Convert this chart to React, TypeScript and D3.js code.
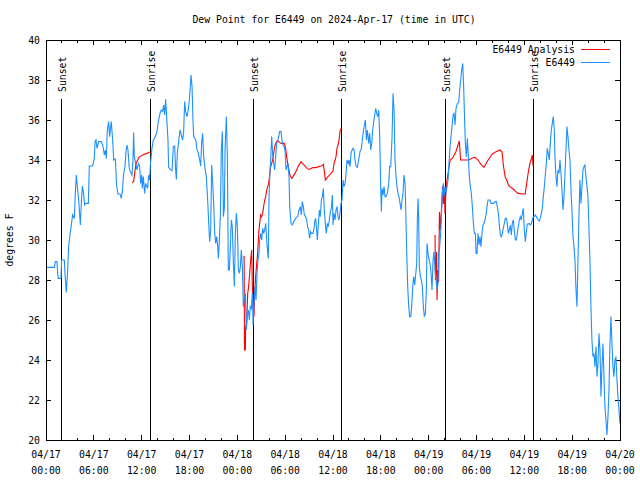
import React from "react";
import * as d3 from "d3";

const title = "Dew Point for E6449 on 2024-Apr-17 (time in UTC)";
const yLabel = "degrees F";
const seriesNames = ["E6449 Analysis", "E6449"];
const seriesColors = ["#ff0000", "#1e90ff"];

// x in hours since 2024-04-17 00:00 UTC
const xTickLabels = [
  ["04/17", "00:00"], ["04/17", "06:00"], ["04/17", "12:00"], ["04/17", "18:00"],
  ["04/18", "00:00"], ["04/18", "06:00"], ["04/18", "12:00"], ["04/18", "18:00"],
  ["04/19", "00:00"], ["04/19", "06:00"], ["04/19", "12:00"], ["04/19", "18:00"],
  ["04/20", "00:00"],
];
const yTicks = [20, 22, 24, 26, 28, 30, 32, 34, 36, 38, 40];

const sunEvents: [number, string][] = [
  [1.92, "Sunset"], [13.09, "Sunrise"], [26.01, "Sunset"],
  [37.05, "Sunrise"], [50.09, "Sunset"], [61.13, "Sunrise"],
];

const analysisSeg1: [number, number][] = [
  [10.79, 32.87], [10.99, 32.92], [11.12, 33.33], [11.29, 33.83], [11.5, 34.0], [11.66, 34.13],
  [11.79, 34.17], [12.12, 34.25], [12.42, 34.3], [12.67, 34.33], [12.88, 34.37], [13.09, 34.4],
];
const analysisSeg2: [number, number][] = [
  [24.75, 29.17], [24.85, 29.17], [24.9, 24.5], [25.0, 24.5], [25.05, 25.67], [25.17, 25.83],
  [25.3, 27.33], [25.42, 27.67], [25.55, 28.33], [25.67, 29.0], [25.8, 29.5], [25.88, 27.67],
  [25.97, 27.0], [26.09, 26.17], [26.17, 27.33], [26.3, 28.17], [26.43, 28.83], [26.55, 29.33],
  [26.68, 30.33], [26.8, 30.83], [26.93, 31.25], [27.05, 31.17], [27.18, 31.33], [27.3, 31.67],
  [27.43, 32.0], [27.56, 32.17], [27.68, 32.5], [27.81, 32.67], [27.93, 32.83], [28.06, 33.25],
  [28.18, 33.67], [28.31, 33.83], [28.43, 34.0], [28.56, 34.33], [28.68, 34.67], [28.81, 34.83],
  [28.93, 34.92], [29.06, 34.97], [29.23, 34.92], [29.35, 34.87], [29.48, 34.83], [29.65, 34.83],
  [29.9, 34.83], [30.06, 34.58], [30.19, 34.17], [30.31, 33.83], [30.48, 33.5], [30.6, 33.25],
  [30.82, 33.08], [30.98, 33.17], [31.23, 33.33], [31.44, 33.5], [31.65, 33.7], [31.86, 33.83],
  [31.99, 33.92], [32.24, 33.8], [32.49, 33.7], [32.74, 33.58], [32.99, 33.53], [33.24, 33.58],
  [33.49, 33.62], [33.74, 33.62], [34.0, 33.63], [34.24, 33.67], [34.5, 33.7], [34.66, 33.73],
  [34.79, 33.78], [34.92, 33.42], [35.04, 33.0], [35.29, 33.13], [35.58, 33.25], [35.83, 33.37],
  [36.0, 33.45], [36.13, 33.83], [36.26, 34.0], [36.38, 34.17], [36.5, 34.58], [36.63, 34.75],
  [36.76, 35.0], [36.88, 35.42], [37.01, 35.58],
];
const analysisSeg3: [number, number][] = [
  [48.8, 30.25], [48.85, 28.0], [49.0, 29.4], [49.05, 27.0], [49.15, 28.5], [49.25, 27.9],
  [49.35, 31.4], [49.45, 30.5], [49.6, 31.5], [49.75, 32.7], [49.85, 31.8], [49.95, 32.6],
  [50.05, 31.3], [50.15, 32.3], [50.3, 33.0], [50.5, 33.5], [50.7, 34.0], [51.0, 34.1],
  [51.4, 34.4], [51.85, 34.95], [52.0, 34.0], [52.5, 34.0], [53.0, 34.0], [53.5, 34.1],
  [53.8, 34.13], [54.2, 34.0], [54.6, 33.75], [54.94, 33.63], [55.3, 33.9], [55.7, 34.15],
  [56.0, 34.3], [56.5, 34.43], [56.95, 34.5], [57.2, 34.4], [57.4, 33.65], [57.6, 33.15],
  [57.8, 33.0], [58.0, 32.75], [58.2, 32.67], [58.6, 32.55], [58.9, 32.43], [59.2, 32.33],
  [59.8, 32.3], [60.1, 32.3], [60.3, 32.83], [60.5, 33.4], [60.7, 33.83], [60.9, 34.08],
  [61.0, 34.25], [61.1, 33.7],
];

const observed: [number, number][] = [
  [0.0, 28.63], [1.05, 28.63], [1.17, 28.92], [1.38, 28.92], [1.46, 28.33], [1.55, 28.08],
  [1.88, 28.08], [1.96, 29.0], [2.3, 29.0], [2.38, 28.33], [2.55, 27.38], [2.72, 28.5],
  [2.84, 29.67], [3.01, 30.25], [3.22, 30.88], [3.34, 31.25], [3.55, 31.08], [3.68, 32.33],
  [3.8, 33.25], [3.93, 32.67], [4.1, 32.0], [4.31, 30.75], [4.43, 31.83], [4.56, 32.7],
  [4.68, 32.42], [4.85, 31.75], [5.02, 31.83], [5.31, 31.83], [5.43, 33.7], [5.85, 33.7],
  [6.06, 34.08], [6.15, 34.92], [6.27, 35.0], [6.4, 34.58], [6.61, 34.92], [6.9, 34.92],
  [7.11, 34.75], [7.32, 34.25], [7.44, 34.5], [7.57, 34.08], [7.69, 35.5], [7.86, 35.92],
  [7.98, 35.17], [8.19, 35.92], [8.36, 35.0], [8.49, 34.0], [8.7, 34.05], [8.86, 32.7],
  [9.03, 32.3], [9.28, 32.3], [9.45, 32.08], [9.57, 32.42], [9.74, 33.33], [9.91, 33.67],
  [10.03, 34.42], [10.16, 34.75], [10.28, 34.5], [10.45, 33.58], [10.62, 33.37], [10.79, 33.25],
  [10.91, 34.0], [10.99, 35.37], [11.08, 34.17], [11.2, 33.92], [11.41, 33.5], [11.58, 33.83],
  [11.75, 33.67], [11.87, 32.83], [12.0, 33.25], [12.08, 32.58], [12.21, 33.17], [12.37, 32.33],
  [12.5, 32.83], [12.63, 32.7], [12.75, 32.58], [12.88, 33.25], [13.0, 33.0], [13.09, 33.75],
  [13.29, 34.58], [13.46, 35.0], [13.67, 35.13], [13.92, 35.42], [14.09, 35.92], [14.3, 36.33],
  [14.46, 36.5], [14.63, 36.42], [14.76, 36.75], [14.88, 36.25], [15.01, 37.03], [15.13, 36.17],
  [15.3, 35.0], [15.38, 33.63], [15.59, 33.53], [15.8, 33.47], [15.97, 34.67], [16.14, 34.7],
  [16.26, 33.5], [16.35, 33.03], [16.47, 34.33], [16.64, 34.92], [16.81, 35.5], [16.97, 35.25],
  [17.14, 35.0], [17.27, 35.42], [17.39, 36.92], [17.52, 36.42], [17.68, 36.17], [17.81, 36.42],
  [17.98, 37.0], [18.07, 37.5], [18.19, 38.25], [18.32, 37.67], [18.44, 35.92], [18.53, 35.17],
  [18.78, 35.0], [18.94, 34.53], [19.11, 34.33], [19.28, 34.0], [19.4, 33.7], [19.53, 34.92],
  [19.65, 35.33], [19.78, 34.17], [19.95, 33.58], [20.11, 33.17], [20.28, 32.0], [20.41, 30.83],
  [20.53, 29.92], [20.66, 30.5], [20.78, 33.75], [20.91, 32.83], [21.03, 31.83], [21.16, 30.33],
  [21.28, 29.83], [21.41, 30.17], [21.54, 29.67], [21.62, 29.08], [21.74, 29.92], [21.87, 31.25],
  [21.99, 34.5], [22.12, 35.42], [22.25, 31.17], [22.37, 31.58], [22.46, 34.5], [22.62, 36.17],
  [22.75, 34.17], [22.87, 28.5], [23.0, 28.5], [23.12, 29.67], [23.25, 31.0], [23.37, 30.67],
  [23.5, 28.83], [23.63, 27.67], [23.75, 30.33], [23.88, 31.33], [24.0, 30.67], [24.13, 28.5],
  [24.25, 28.33], [24.38, 28.67], [24.5, 29.5], [24.63, 28.67], [24.75, 26.67], [24.88, 27.08],
  [25.01, 27.33], [25.13, 25.5], [25.26, 26.33], [25.38, 26.5], [25.51, 26.0], [25.63, 26.67],
  [25.76, 26.58], [25.88, 27.33], [25.97, 25.75], [26.09, 26.83], [26.22, 27.67], [26.34, 27.0],
  [26.47, 28.33], [26.59, 29.0], [26.72, 29.33], [26.8, 30.0], [26.93, 30.33], [27.05, 30.0],
  [27.18, 30.58], [27.3, 30.33], [27.43, 30.5], [27.56, 30.83], [27.68, 30.0], [27.81, 29.33],
  [27.89, 29.08], [27.97, 32.0], [28.06, 33.17], [28.18, 34.0], [28.31, 35.17], [28.43, 34.33],
  [28.56, 33.83], [28.68, 33.5], [28.81, 34.17], [28.93, 34.83], [29.06, 34.92], [29.19, 35.17],
  [29.31, 35.42], [29.48, 35.42], [29.6, 35.0], [29.73, 34.75], [29.85, 34.67], [29.98, 34.5],
  [30.11, 33.5], [30.23, 33.67], [30.36, 33.83], [30.48, 33.17], [30.57, 31.67], [30.73, 30.83],
  [30.9, 30.75], [31.07, 30.92], [31.23, 31.03], [31.4, 31.13], [31.57, 31.17], [31.74, 31.5],
  [31.9, 31.67], [32.03, 31.25], [32.15, 31.92], [32.28, 31.67], [32.41, 31.25], [32.57, 31.17],
  [32.7, 31.0], [32.82, 30.67], [32.95, 30.5], [33.07, 30.08], [33.2, 30.42], [33.32, 30.33],
  [33.49, 30.33], [33.62, 30.58], [33.74, 31.0], [33.83, 31.08], [33.91, 30.67], [34.04, 30.0],
  [34.16, 30.75], [34.29, 31.5], [34.41, 31.17], [34.54, 32.0], [34.66, 32.17], [34.79, 32.58],
  [34.91, 31.5], [35.04, 30.83], [35.16, 30.33], [35.29, 30.83], [35.41, 30.67], [35.54, 31.0],
  [35.67, 31.42], [35.79, 31.58], [35.92, 32.25], [36.0, 30.75], [36.13, 31.33], [36.26, 31.0],
  [36.38, 31.5], [36.51, 31.67], [36.63, 31.17], [36.76, 31.0], [36.88, 31.33], [37.01, 31.83],
  [37.13, 32.0], [37.26, 33.0], [37.39, 32.67], [37.51, 32.83], [37.64, 33.33], [37.76, 34.0],
  [37.89, 33.83], [38.01, 34.0], [38.14, 33.67], [38.26, 34.33], [38.39, 34.5], [38.51, 34.58],
  [38.64, 34.5], [38.76, 34.0], [38.89, 33.7], [39.06, 33.63], [39.22, 34.0], [39.39, 34.42],
  [39.56, 34.58], [39.68, 35.0], [39.81, 35.42], [39.94, 35.75], [40.06, 36.0], [40.19, 35.0],
  [40.31, 35.5], [40.48, 34.83], [40.6, 35.33], [40.73, 34.5], [40.86, 34.83], [40.98, 35.5],
  [41.11, 35.92], [41.23, 36.25], [41.36, 36.58], [41.48, 36.33], [41.61, 36.17], [41.73, 36.5],
  [41.86, 35.17], [41.98, 32.67], [42.07, 31.42], [42.15, 32.58], [42.28, 32.25], [42.4, 32.67],
  [42.53, 32.17], [42.65, 32.17], [42.82, 32.33], [42.99, 32.83], [43.11, 33.67], [43.24, 33.67],
  [43.41, 35.17], [43.53, 37.33], [43.66, 36.5], [43.78, 34.0], [43.91, 33.17], [44.03, 32.67],
  [44.16, 32.33], [44.28, 32.17], [44.41, 31.83], [44.53, 31.5], [44.66, 32.0], [44.78, 32.33],
  [44.91, 33.25], [45.04, 32.83], [45.12, 31.58], [45.24, 29.5], [45.37, 27.67], [45.5, 26.67],
  [45.62, 26.17], [45.75, 26.17], [45.87, 26.67], [46.0, 27.67], [46.12, 28.17], [46.25, 27.75],
  [46.37, 28.25], [46.5, 28.83], [46.58, 31.0], [46.67, 32.08], [46.75, 31.0], [46.83, 28.67],
  [46.96, 28.17], [47.08, 28.0], [47.21, 27.67], [47.33, 26.67], [47.46, 26.17], [47.59, 26.33],
  [47.71, 27.5], [47.79, 29.83], [47.92, 29.33], [48.05, 29.0], [48.17, 28.83], [48.3, 28.33],
  [48.42, 27.5], [48.55, 29.0], [48.67, 29.42], [48.8, 28.5], [48.92, 28.0], [49.05, 27.5],
  [49.17, 27.83], [49.26, 29.33], [49.38, 29.67], [49.51, 30.33], [49.59, 31.17], [49.72, 32.33],
  [49.84, 32.83], [49.93, 32.17], [50.05, 32.67], [50.18, 32.33], [50.3, 32.67], [50.43, 33.0],
  [50.55, 33.83], [50.68, 34.67], [50.8, 35.17], [50.93, 35.67], [51.06, 36.25], [51.18, 36.33],
  [51.31, 35.75], [51.43, 36.58], [51.6, 36.83], [51.77, 36.87], [51.89, 37.5], [52.02, 38.0],
  [52.14, 38.5], [52.27, 38.83], [52.39, 37.67], [52.52, 35.83], [52.6, 34.83], [52.73, 34.17],
  [52.85, 35.08], [52.98, 34.17], [53.1, 33.17], [53.23, 32.67], [53.35, 32.33], [53.48, 31.67],
  [53.61, 30.83], [53.73, 30.33], [53.86, 30.33], [53.94, 29.33], [54.06, 29.33], [54.19, 30.33],
  [54.31, 29.75], [54.44, 30.17], [54.56, 29.67], [54.69, 30.33], [54.81, 30.75], [54.94, 30.83],
  [55.06, 31.0], [55.19, 31.25], [55.32, 31.67], [55.44, 32.0], [55.69, 32.0], [55.82, 31.83],
  [56.11, 31.83], [56.32, 31.92], [56.49, 31.92], [56.61, 31.67], [56.74, 31.33], [56.86, 30.75],
  [56.99, 30.25], [57.11, 30.17], [57.24, 30.33], [57.36, 30.58], [57.49, 30.83], [57.61, 31.08],
  [57.74, 31.08], [57.86, 30.83], [57.99, 30.33], [58.12, 30.5], [58.24, 30.75], [58.37, 30.25],
  [58.49, 30.83], [58.62, 31.0], [58.74, 30.5], [58.87, 30.0], [58.99, 30.0], [59.12, 30.33],
  [59.24, 30.67], [59.37, 31.0], [59.5, 31.17], [59.62, 31.0], [59.75, 31.33], [59.87, 31.58],
  [60.0, 30.5], [60.12, 29.92], [60.25, 30.42], [60.37, 30.8], [60.5, 30.8], [60.62, 30.83],
  [60.75, 30.75], [60.88, 30.83], [61.0, 31.0], [61.13, 31.17], [61.25, 31.17], [61.38, 31.25],
  [61.5, 31.17], [61.63, 31.08], [61.75, 31.0], [61.88, 30.95], [62.0, 31.08], [62.13, 31.33],
  [62.25, 31.58], [62.38, 32.17], [62.51, 32.67], [62.63, 33.25], [62.76, 33.83], [62.88, 34.58],
  [63.01, 34.33], [63.13, 34.0], [63.26, 34.83], [63.38, 35.5], [63.51, 35.83], [63.63, 36.17],
  [63.76, 35.5], [63.84, 34.17], [63.97, 33.17], [64.09, 32.67], [64.22, 33.5], [64.35, 33.33],
  [64.47, 34.0], [64.6, 33.33], [64.72, 32.5], [64.85, 31.5], [64.97, 32.17], [65.1, 33.33],
  [65.22, 34.5], [65.35, 35.67], [65.47, 35.17], [65.6, 34.5], [65.72, 34.0], [65.85, 32.5],
  [65.97, 31.5], [66.1, 30.17], [66.23, 29.67], [66.35, 29.0], [66.48, 27.5], [66.6, 26.67],
  [66.73, 29.0], [66.85, 31.17], [66.98, 33.0], [67.1, 31.83], [67.23, 32.67], [67.35, 33.5],
  [67.48, 33.67], [67.6, 33.75], [67.73, 33.17], [67.86, 32.67], [67.98, 32.17], [68.11, 30.5],
  [68.23, 29.0], [68.36, 26.58], [68.48, 25.0], [68.61, 24.17], [68.73, 24.33], [68.86, 23.67],
  [68.99, 24.67], [69.11, 23.17], [69.24, 23.83], [69.36, 25.33], [69.49, 24.5], [69.61, 22.17],
  [69.74, 23.67], [69.86, 24.83], [69.99, 23.17], [70.11, 21.67], [70.24, 21.0], [70.36, 20.25],
  [70.49, 21.17], [70.62, 22.5], [70.74, 24.83], [70.87, 26.17], [70.99, 24.83], [71.12, 23.67],
  [71.24, 23.17], [71.37, 24.0], [71.49, 24.17], [71.62, 23.0], [71.74, 22.17], [71.87, 21.5],
  [71.99, 20.83],
];

const W = 640, H = 480;
const M = { left: 46, right: 620, top: 40, bottom: 440 };
const FONT = "'DejaVu Sans Mono', 'Liberation Mono', monospace";
const FS = 9.8;

export default function App() {
  const x = d3.scaleLinear().domain([0, 72]).range([M.left, M.right]);
  const y = d3.scaleLinear().domain([20, 40]).range([M.bottom, M.top]);
  const line = d3.line<[number, number]>().x((d) => x(d[0])).y((d) => y(d[1]));

  const majorX = d3.range(0, 73, 6);
  const minorX = d3.range(0, 73, 2).filter((h) => h % 6 !== 0);
  const majT = 5, minT = 2.5, yT = 5;

  return (
    <svg width={W} height={H} style={{ position: "absolute", left: 0, top: 0, background: "#fff" }}
      fontFamily={FONT} fontSize={FS}>
      <rect x={0} y={0} width={W} height={H} fill="#fff" />
      <text x={334} y={23} textAnchor="middle">{title}</text>

      {/* ticks */}
      <g stroke="#000" strokeWidth={1} shapeRendering="crispEdges">
        {majorX.map((h) => (
          <g key={"mx" + h}>
            <line x1={x(h)} x2={x(h)} y1={M.bottom} y2={M.bottom - majT} />
            <line x1={x(h)} x2={x(h)} y1={M.top} y2={M.top + majT} />
          </g>
        ))}
        {minorX.map((h) => (
          <g key={"nx" + h}>
            <line x1={x(h)} x2={x(h)} y1={M.bottom} y2={M.bottom - minT} />
            <line x1={x(h)} x2={x(h)} y1={M.top} y2={M.top + minT} />
          </g>
        ))}
        {yTicks.map((v) => (
          <g key={"y" + v}>
            <line x1={M.left} x2={M.left + yT} y1={y(v)} y2={y(v)} />
            <line x1={M.right} x2={M.right - yT} y1={y(v)} y2={y(v)} />
          </g>
        ))}
      </g>

      {/* tick labels */}
      {yTicks.map((v) => (
        <text key={"yl" + v} x={40} y={y(v) + 4} textAnchor="end">{v}</text>
      ))}
      {majorX.map((h, i) => (
        <g key={"xl" + h}>
          <text x={x(h)} y={458} textAnchor="middle">{xTickLabels[i][0]}</text>
          <text x={x(h)} y={474} textAnchor="middle">{xTickLabels[i][1]}</text>
        </g>
      ))}
      <text transform={`translate(13,${(M.top + M.bottom) / 2}) rotate(-90)`} textAnchor="middle">{yLabel}</text>

      {/* sun events */}
      {sunEvents.map(([h, label], i) => (
        <g key={"sun" + i}>
          <line x1={Math.round(x(h)) + 0.5} x2={Math.round(x(h)) + 0.5} y1={99} y2={M.bottom} stroke="#000" strokeWidth={1} shapeRendering="crispEdges" />
          <text transform={`translate(${Math.round(x(h)) + 4.5},92) rotate(-90)`} textAnchor="start">{label}</text>
        </g>
      ))}

      {/* series */}
      <g fill="none" strokeWidth={1.1} strokeLinejoin="miter">
        {[analysisSeg1, analysisSeg2, analysisSeg3].map((seg, i) => (
          <path key={"a" + i} d={line(seg) || ""} stroke={seriesColors[0]} />
        ))}
        <path d={line(observed) || ""} stroke={seriesColors[1]} />
      </g>

      {/* legend */}
      <text x={575} y={53} textAnchor="end">{seriesNames[0]}</text>
      <line x1={581} x2={610} y1={49.5} y2={49.5} stroke={seriesColors[0]} strokeWidth={1} shapeRendering="crispEdges" />
      <text x={575} y={66} textAnchor="end">{seriesNames[1]}</text>
      <line x1={581} x2={610} y1={62.5} y2={62.5} stroke={seriesColors[1]} strokeWidth={1} shapeRendering="crispEdges" />

      {/* frame */}
      <rect x={M.left + 0.5} y={M.top + 0.5} width={M.right - M.left} height={M.bottom - M.top}
        fill="none" stroke="#000" strokeWidth={1} shapeRendering="crispEdges" />
    </svg>
  );
}
